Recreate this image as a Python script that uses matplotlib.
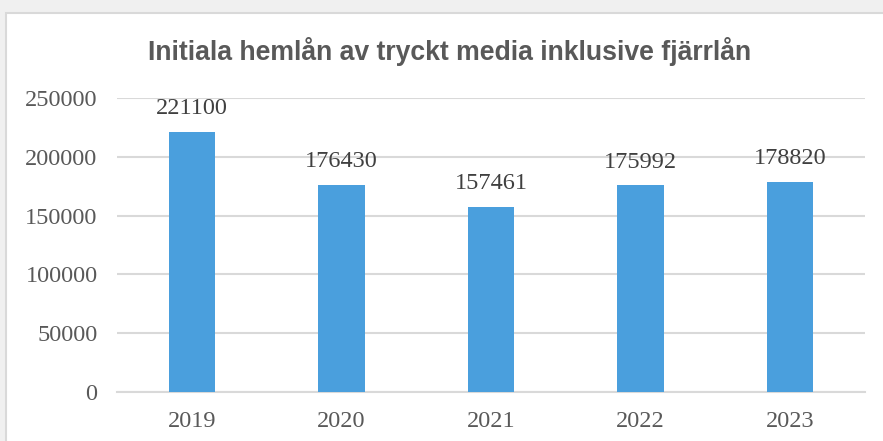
import matplotlib.pyplot as plt
from matplotlib.patches import Rectangle

years = ['2019', '2020', '2021', '2022', '2023']
loans = [221100, 176430, 157461, 175992, 178820]
y_ticks = [0, 50000, 100000, 150000, 200000, 250000]

title = 'Initiala hemlån av tryckt media inklusive fjärrlån'
text_color = '#595959'
grid_color = '#d9d9d9'
bar_color = '#4a9fdd'

W, H = 883, 441
fig = plt.figure(figsize=(W / 100, H / 100), dpi=100, facecolor='#f0f0f0')

# vit diagramyta med grå ram, beskuren i höger- och nederkant
fig.patches.append(Rectangle((6 / W, -0.1), 1.2, (H - 13) / H + 0.1,
                             transform=fig.transFigure, facecolor='white',
                             edgecolor=grid_color, linewidth=1.5, zorder=-5))

ax = fig.add_axes([117 / W, 49 / H, 748 / W, 294 / H])
ax.set_zorder(2)
ax.set_facecolor('none')

x = range(len(years))
bars = ax.bar(x, loans, width=0.31, color=bar_color, zorder=3)

for xi, v in zip(x, loans):
    ax.annotate(str(v), (xi, v), xytext=(0, 9), textcoords='offset points',
                ha='center', va='bottom', fontsize=17.5, family='Liberation Serif',
                color='#404040')

ax.set_xlim(-0.5, len(years) - 0.5)
ax.set_ylim(0, 250000)
ax.set_yticks(y_ticks)
ax.set_yticklabels([str(t) for t in y_ticks])
ax.set_xticks(list(x))
ax.set_xticklabels(years)
ax.grid(axis='y', color=grid_color, linewidth=1.5, zorder=0)
ax.tick_params(length=0, labelsize=17.5, labelcolor=text_color)
ax.tick_params(axis='y', pad=14)
ax.tick_params(axis='x', pad=14)
for lab in ax.get_xticklabels() + ax.get_yticklabels():
    lab.set_family('Liberation Serif')
for side in ['top', 'right', 'left']:
    ax.spines[side].set_visible(False)
ax.spines['bottom'].set_color(grid_color)
ax.spines['bottom'].set_linewidth(1.5)

fig.text(450 / W, 1 - 51 / H, title, ha='center', va='center', fontsize=19.2,
         fontweight='bold', family='Liberation Sans', color=text_color)

fig.savefig('out.png', dpi=100, facecolor=fig.get_facecolor())
